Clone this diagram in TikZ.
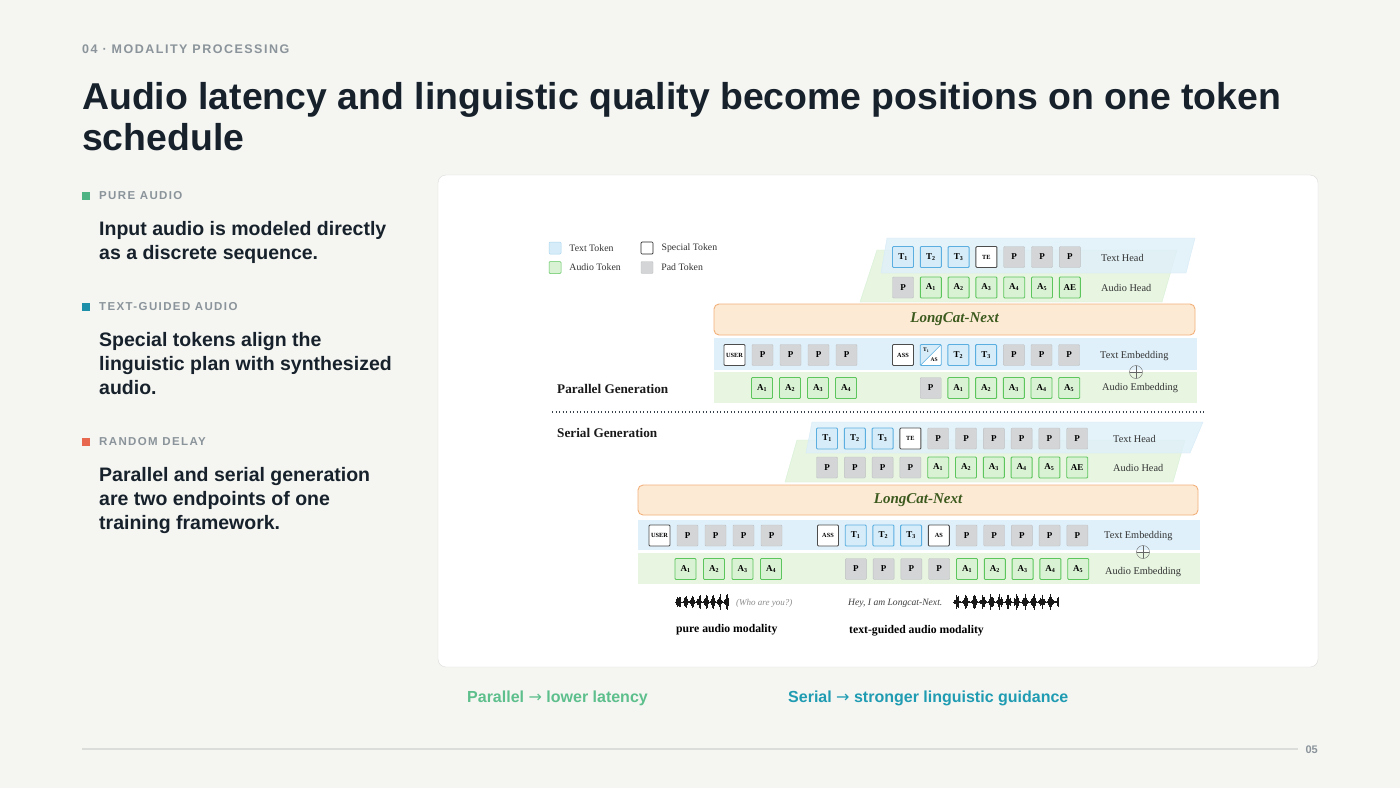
\documentclass[tikz,border=0pt]{standalone}
\usepackage{fontspec}
\setmainfont{Liberation Serif}
\newfontfamily\slidefont{Liberation Sans}
\newfontfamily\trackfont[LetterSpace=12]{Liberation Sans}
\newfontfamily\symfont{DejaVu Sans}
\usetikzlibrary{positioning}

\definecolor{pagebg}{HTML}{F5F5F2}
\definecolor{panelline}{HTML}{DADDDA}
\definecolor{inkdark}{HTML}{16212B}
\definecolor{kickergray}{HTML}{8A949A}
\definecolor{puregreen}{HTML}{4FB483}
\definecolor{guideteal}{HTML}{1E8FA9}
\definecolor{delayred}{HTML}{E8674F}
\definecolor{capgreen}{HTML}{5DBF8C}
\definecolor{capteal}{HTML}{1F9CB2}
\definecolor{tokblue}{HTML}{5AAEE0}
\definecolor{tokbluefill}{HTML}{D6EDF9}
\definecolor{tokgreen}{HTML}{5CC65C}
\definecolor{tokgreenfill}{HTML}{D9F2D4}
\definecolor{padfill}{HTML}{D3D5D7}
\definecolor{bandblue}{HTML}{DFF0FA}
\definecolor{bandgreen}{HTML}{E7F5E1}
\definecolor{corefill}{HTML}{FCEAD5}
\definecolor{coreline}{HTML}{F2B07A}
\definecolor{coretext}{HTML}{3D5A1E}

\begin{document}
\begin{tikzpicture}[x=1pt, y=-1pt,
    tok/.style={rectangle, minimum size=21pt, inner sep=0pt, rounded corners=1pt, line width=0.9pt, font=\bfseries\fontsize{9}{9}\selectfont},
    txt/.style={tok, draw=tokblue, fill=tokbluefill},
    aud/.style={tok, draw=tokgreen, fill=tokgreenfill},
    pad/.style={tok, draw=padfill!90!black, line width=0.4pt, fill=padfill},
    spc/.style={tok, draw=black!70, fill=white, font=\bfseries\fontsize{6.3}{7}\selectfont},
    splt/.style={tok, draw=tokblue, fill=white, path picture={
        \fill[tokbluefill] (path picture bounding box.north west) -- (path picture bounding box.north east) -- (path picture bounding box.south west) -- cycle;
        \draw[tokblue, line width=0.6pt] (path picture bounding box.south west) -- (path picture bounding box.north east);}},
    core/.style={rectangle, draw=coreline, fill=corefill, rounded corners=5pt, line width=0.9pt, font=\bfseries\itshape\fontsize{15}{16}\selectfont, text=coretext},
    rowlabel/.style={anchor=west, inner sep=0pt, font=\fontsize{10.3}{11}\selectfont, text=black!80},
    oplus/.style={circle, draw=black!60, minimum size=13pt, inner sep=0pt, path picture={
        \draw[black!60, line width=0.6pt] (path picture bounding box.north) -- (path picture bounding box.south) (path picture bounding box.west) -- (path picture bounding box.east);}},
    legend/.style={anchor=west, inner sep=0pt, font=\fontsize{9.8}{10}\selectfont, text=black!80},
    section/.style={anchor=west, inner sep=0pt, font=\bfseries\fontsize{13.2}{14}\selectfont, text=black!90},
    wave/.style={line width=0.45pt, black!90},
    marker/.style={rectangle, minimum size=8pt, inner sep=0pt},
    tag/.style={anchor=west, inner sep=0pt, font=\trackfont\bfseries\fontsize{11.5}{12}\selectfont, text=kickergray},
    body/.style={anchor=north west, inner sep=0pt, align=left, font=\slidefont\bfseries\fontsize{19.5}{24}\selectfont, text=inkdark}
]
\useasboundingbox (0,0) rectangle (1400,788);
\fill[pagebg] (0,0) rectangle (1400,788);

% Slide header
\node[anchor=west, inner sep=0pt, font=\trackfont\bfseries\fontsize{12.5}{13}\selectfont, text=kickergray] (kicker) at (82,49) {04 · MODALITY PROCESSING};
\node[anchor=north west, inner sep=0pt, align=left, font=\slidefont\bfseries\fontsize{37.4}{41}\selectfont, text=inkdark] (title) at (82,82) {Audio latency and linguistic quality become positions on one token\\schedule};

% Left column
\node[marker, fill=puregreen] (mpure) at (86,196) {};
\node[tag] (tpure) at (99,196) {PURE AUDIO};
\node[body] (bpure) at (99,221) {Input audio is modeled directly\\as a discrete sequence.};
\node[marker, fill=guideteal] (mguide) at (86,307) {};
\node[tag] (tguide) at (99,307) {TEXT-GUIDED AUDIO};
\node[body] (bguide) at (99,332) {Special tokens align the\\linguistic plan with synthesized\\audio.};
\node[marker, fill=delayred] (mdelay) at (86,442) {};
\node[tag] (tdelay) at (99,442) {RANDOM DELAY};
\node[body] (bdelay) at (99,467) {Parallel and serial generation\\are two endpoints of one\\training framework.};

% Figure panel
\draw[panelline, fill=white, rounded corners=8pt] (438,175) rectangle (1318,667);

% Legend
\node[tok, minimum size=12pt, line width=0.5pt, draw=tokblue!50, fill=tokbluefill] (lgtext) at (555,248) {};
\node[legend, right=8pt of lgtext] {Text Token};
\node[tok, minimum size=12pt, line width=0.5pt, draw=tokgreen, fill=tokgreenfill] (lgaudio) at (555,267.5) {};
\node[legend, right=8pt of lgaudio] {Audio Token};
\node[tok, minimum size=12pt, line width=0.7pt, draw=black!85, fill=white] (lgspecial) at (647,248) {};
\node[legend, right=8pt of lgspecial] {Special Token};
\node[tok, minimum size=12pt, line width=0.4pt, draw=padfill!90!black, fill=padfill] (lgpad) at (647,267.5) {};
\node[legend, right=8pt of lgpad] {Pad Token};

% Parallel generation
\filldraw[fill=bandgreen, draw=tokgreen!25] (877,250) -- (1177,250) -- (1162,302) -- (860,302) -- cycle;
\filldraw[fill=bandblue, draw=tokblue!25, fill opacity=0.82] (887,238) -- (1195,238) -- (1186,273) -- (881,273) -- cycle;
\foreach \kind/\lab [count=\i from 0] in {txt/T\textsubscript{1},txt/T\textsubscript{2},txt/T\textsubscript{3},spc/TE,pad/P,pad/P,pad/P}
  \node[\kind] (pth\i) at ({903+27.8*\i},257) {\lab};
\foreach \kind/\lab [count=\i from 0] in {pad/P,aud/A\textsubscript{1},aud/A\textsubscript{2},aud/A\textsubscript{3},aud/A\textsubscript{4},aud/A\textsubscript{5},aud/AE}
  \node[\kind] (pah\i) at ({903+27.8*\i},287.5) {\lab};
\node[rowlabel] (pthl) at (1101,258) {Text Head};
\node[rowlabel] (pahl) at (1101,288) {Audio Head};

\node[core, minimum width=481pt, minimum height=31pt] (pcore) at (954.5,319.5) {LongCat-Next};

\fill[bandblue] (714,338) rectangle (1197,370);
\fill[bandgreen] (714,372) rectangle (1197,403);
\foreach \kind/\lab [count=\i from 0] in {spc/USER,pad/P,pad/P,pad/P,pad/P}
  \node[\kind] (pte\i) at ({734.5+28*\i},355) {\lab};
\node[spc] (pass) at (903,355) {ASS};
\node[splt] (psplit) at (930.7,355) {};
\node[inner sep=0pt, font=\bfseries\fontsize{5.5}{6}\selectfont] (psplitt) at ([xshift=-4.5pt,yshift=4.5pt]psplit.center) {T\textsubscript{1}};
\node[inner sep=0pt, font=\bfseries\fontsize{5.5}{6}\selectfont] (psplita) at ([xshift=3.5pt,yshift=-5pt]psplit.center) {AS};
\foreach \kind/\lab [count=\i from 2] in {txt/T\textsubscript{2},txt/T\textsubscript{3},pad/P,pad/P,pad/P}
  \node[\kind] (pter\i) at ({903+27.7*\i},355) {\lab};
\foreach \lab [count=\i from 0] in {A\textsubscript{1},A\textsubscript{2},A\textsubscript{3},A\textsubscript{4}}
  \node[aud] (pae\i) at ({762+28*\i},388) {\lab};
\foreach \kind/\lab [count=\i from 1] in {pad/P,aud/A\textsubscript{1},aud/A\textsubscript{2},aud/A\textsubscript{3},aud/A\textsubscript{4},aud/A\textsubscript{5}}
  \node[\kind] (paer\i) at ({903+27.7*\i},388) {\lab};
\node[rowlabel] (ptel) at (1100,356) {Text Embedding};
\node[rowlabel] (pael) at (1102,388) {Audio Embedding};
\node[oplus] (psum) at (1136,372) {};
\node[section] (ptitle) at (557,389) {Parallel Generation};

% Separator
\coordinate (sepl) at (552,412);
\coordinate (sepr) at (1205,412);
\draw[inkdark!85, line width=1.8pt, dash pattern=on 1.4pt off 2.1pt] (sepl) -- (sepr);

% Serial generation
\node[section] (stitle) at (557,433) {Serial Generation};
\filldraw[fill=bandgreen, draw=tokgreen!25] (797,440) -- (1185,440) -- (1173,482) -- (785,482) -- cycle;
\filldraw[fill=bandblue, draw=tokblue!25, fill opacity=0.82] (812,422) -- (1203,422) -- (1190,453) -- (806,453) -- cycle;
\foreach \kind/\lab [count=\i from 0] in {txt/T\textsubscript{1},txt/T\textsubscript{2},txt/T\textsubscript{3},spc/TE,pad/P,pad/P,pad/P,pad/P,pad/P,pad/P}
  \node[\kind] (sth\i) at ({827+27.8*\i},438.5) {\lab};
\foreach \kind/\lab [count=\i from 0] in {pad/P,pad/P,pad/P,pad/P,aud/A\textsubscript{1},aud/A\textsubscript{2},aud/A\textsubscript{3},aud/A\textsubscript{4},aud/A\textsubscript{5},aud/AE}
  \node[\kind] (sah\i) at ({827+27.8*\i},467.5) {\lab};
\node[rowlabel] (sthl) at (1113,438.5) {Text Head};
\node[rowlabel] (sahl) at (1113,467.5) {Audio Head};

\node[core, minimum width=560pt, minimum height=30pt] (score) at (918,500) {LongCat-Next};

\fill[bandblue] (638,520) rectangle (1200,550);
\fill[bandgreen] (638,553) rectangle (1200,584);
\foreach \kind/\lab [count=\i from 0] in {spc/USER,pad/P,pad/P,pad/P,pad/P}
  \node[\kind] (ste\i) at ({659.5+28*\i},535.5) {\lab};
\foreach \kind/\lab [count=\i from 0] in {spc/ASS,txt/T\textsubscript{1},txt/T\textsubscript{2},txt/T\textsubscript{3},spc/AS,pad/P,pad/P,pad/P,pad/P,pad/P}
  \node[\kind] (ster\i) at ({828+27.7*\i},535.5) {\lab};
\foreach \lab [count=\i from 0] in {A\textsubscript{1},A\textsubscript{2},A\textsubscript{3},A\textsubscript{4}}
  \node[aud] (sae\i) at ({685.5+28.5*\i},569) {\lab};
\foreach \kind/\lab [count=\i from 1] in {pad/P,pad/P,pad/P,pad/P,aud/A\textsubscript{1},aud/A\textsubscript{2},aud/A\textsubscript{3},aud/A\textsubscript{4},aud/A\textsubscript{5}}
  \node[\kind] (saer\i) at ({828+27.8*\i},569) {\lab};
\node[rowlabel] (stel) at (1104,536) {Text Embedding};
\node[rowlabel] (sael) at (1105,572) {Audio Embedding};
\node[oplus] (ssum) at (1143,552) {};

% Audio clips and captions
\draw[wave] (675,602) -- (728,602);
\foreach \k in {0,...,66}{
  \pgfmathsetmacro\wh{0.4+8*(abs(sin(\k*21)))^3*(0.3+0.7*abs(sin(\k*137)))}
  \draw[wave] ({675+0.8*\k},{602-\wh}) -- ++(0,{2*\wh});
}
\draw[wave] (953,602) -- (1058,602);
\foreach \k in {0,...,131}{
  \pgfmathsetmacro\wh{0.4+8*(abs(sin(\k*17)))^3*(0.3+0.7*abs(sin(\k*113)))}
  \draw[wave] ({953+0.8*\k},{602-\wh}) -- ++(0,{2*\wh});
}
\node[anchor=west, inner sep=0pt, font=\itshape\fontsize{9}{10}\selectfont, text=black!45] (qtext) at (736,603) {(Who are you?)};
\node[anchor=west, inner sep=0pt, font=\itshape\fontsize{9.6}{10}\selectfont, text=black!75] (atext) at (848,603) {Hey, I am Longcat-Next.};
\node[anchor=west, inner sep=0pt, font=\bfseries\fontsize{11.7}{12}\selectfont] (purecap) at (676,630) {pure audio modality};
\node[anchor=west, inner sep=0pt, font=\bfseries\fontsize{11.7}{12}\selectfont] (guidecap) at (849,631) {text-guided audio modality};

% Takeaways and footer
\node[anchor=west, inner sep=0pt, font=\slidefont\bfseries\fontsize{16}{17}\selectfont, text=capgreen] (parcap) at (467,698) {Parallel {\symfont\mdseries\fontsize{16}{16}\selectfont →} lower latency};
\node[anchor=west, inner sep=0pt, font=\slidefont\bfseries\fontsize{16}{17}\selectfont, text=capteal] (sercap) at (788,698) {Serial {\symfont\mdseries\fontsize{16}{16}\selectfont →} stronger linguistic guidance};
\coordinate (footl) at (82,749);
\coordinate (footr) at (1298,749);
\draw[panelline, line width=1.2pt] (footl) -- (footr);
\node[anchor=east, inner sep=0pt, font=\slidefont\bfseries\fontsize{11}{12}\selectfont, text=kickergray] (pageno) at (1318,750) {05};
\end{tikzpicture}
\end{document}
